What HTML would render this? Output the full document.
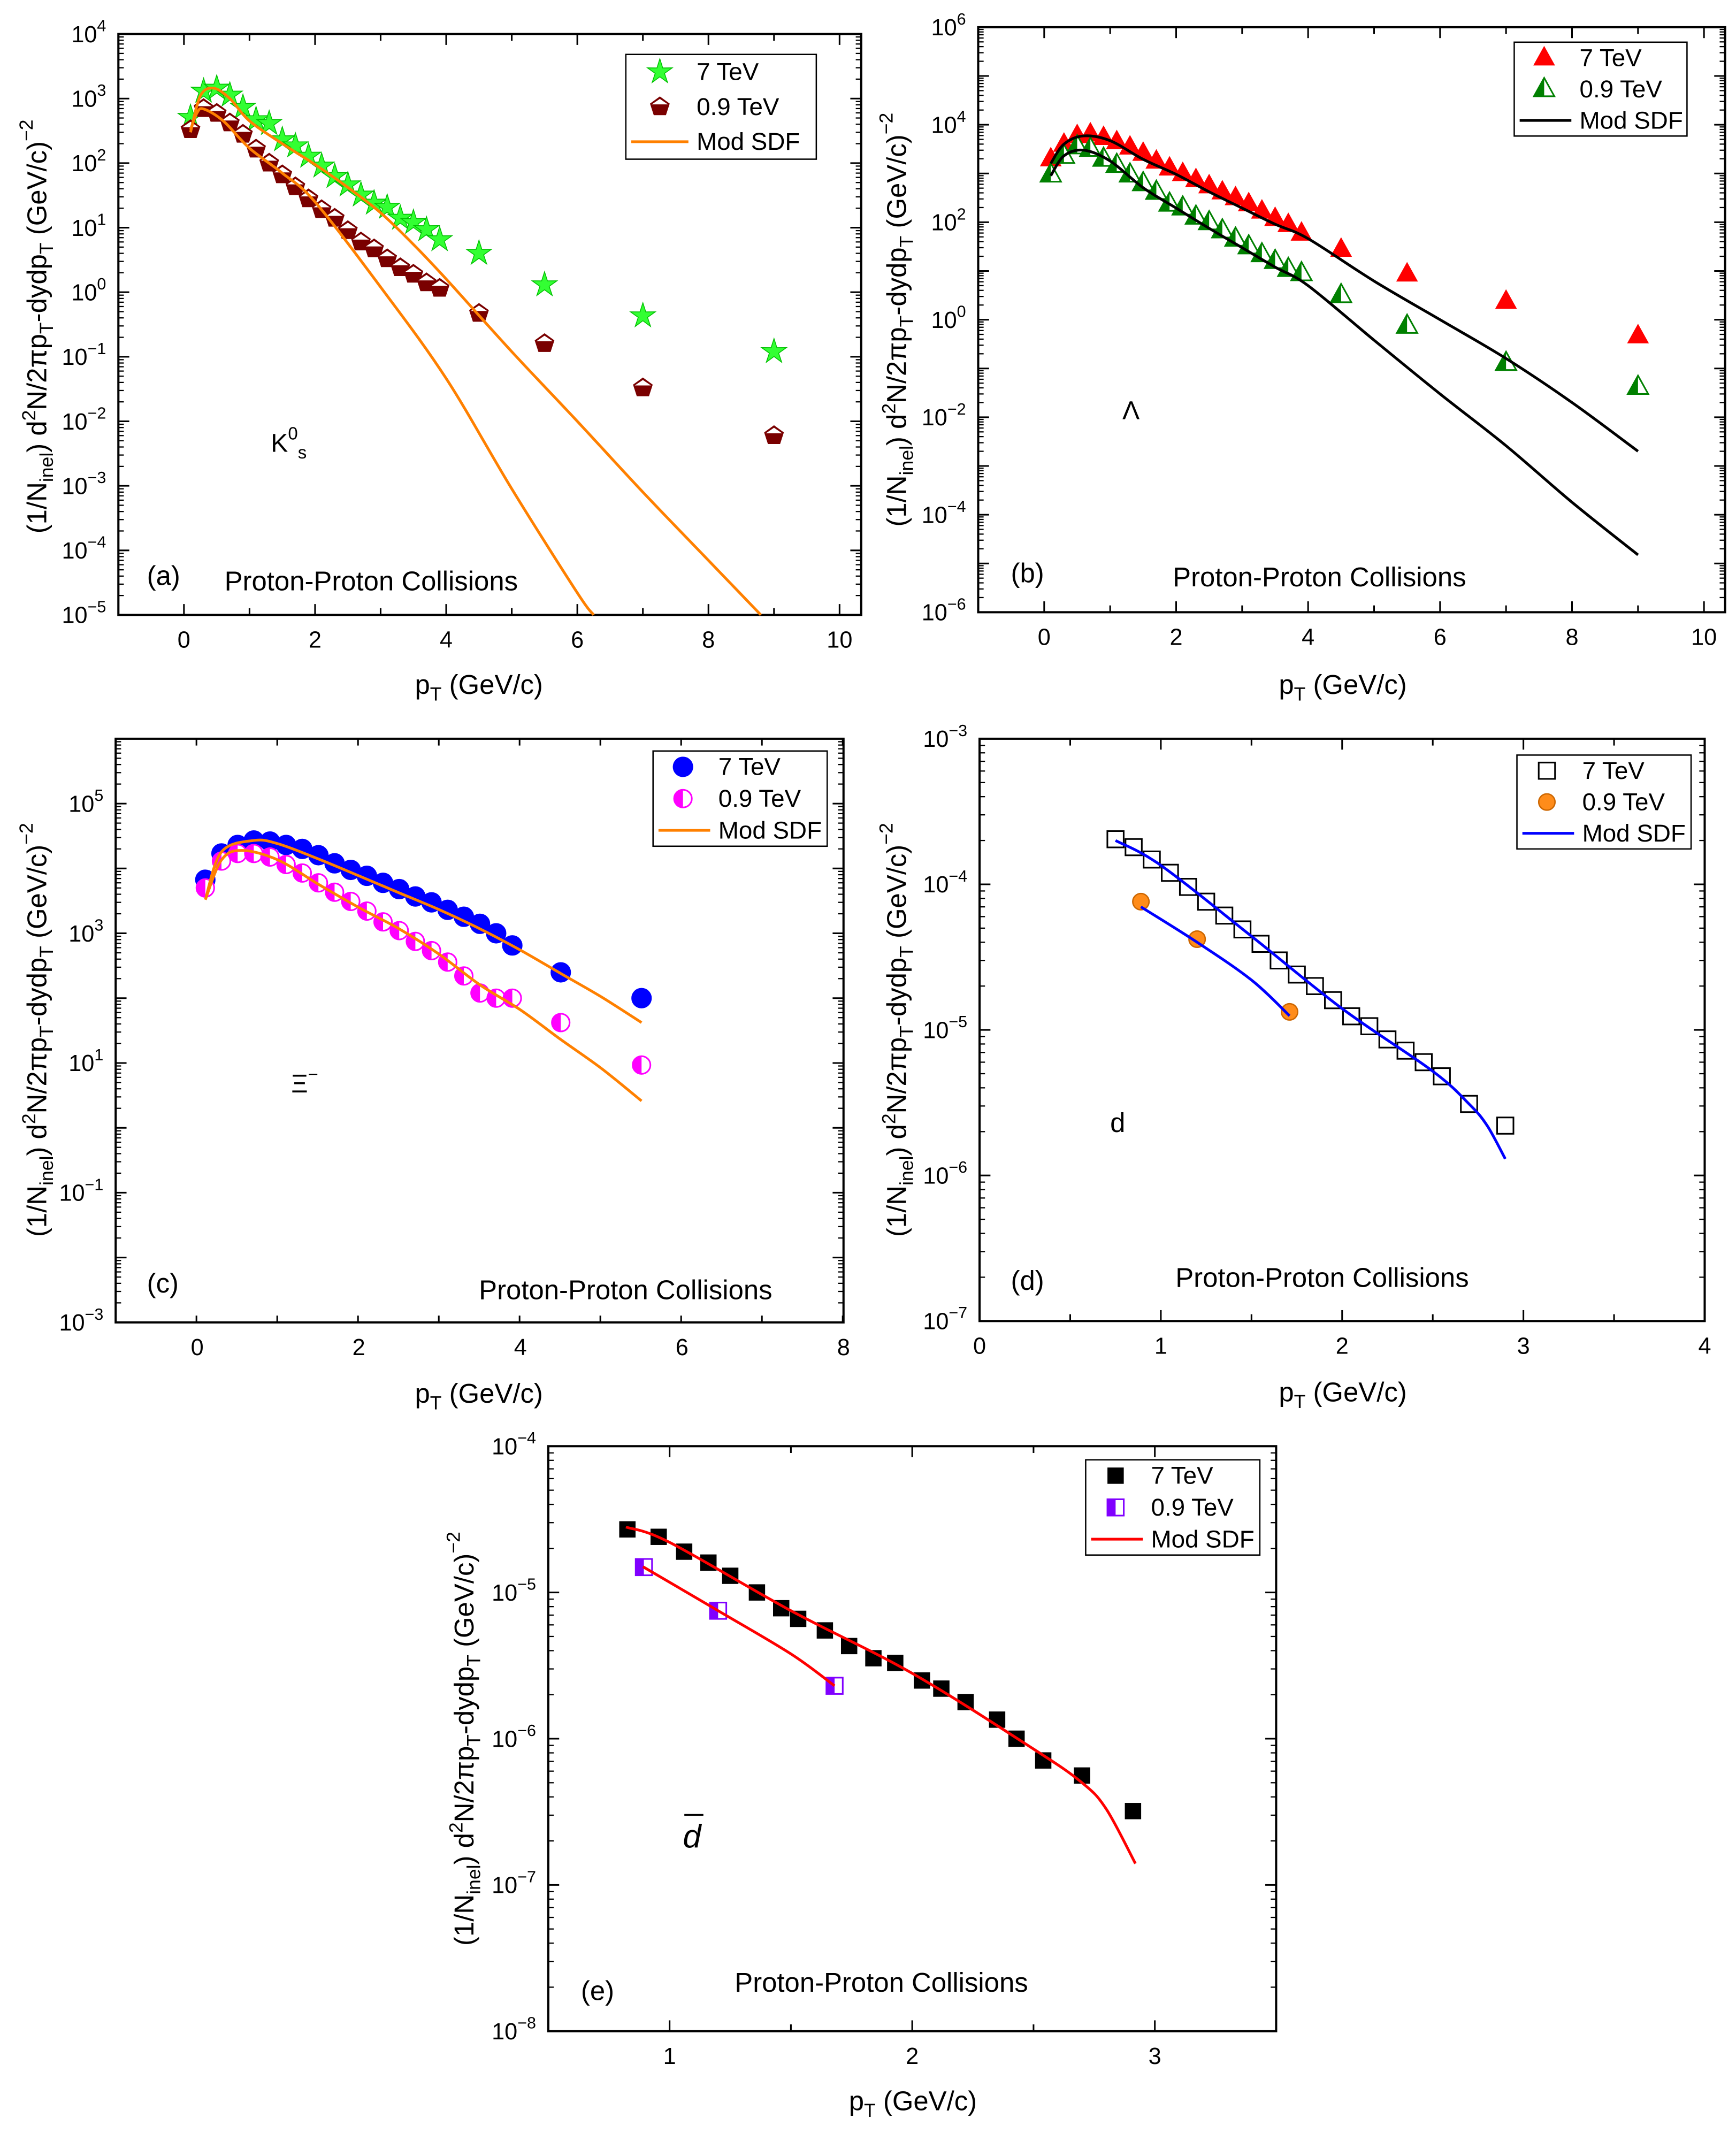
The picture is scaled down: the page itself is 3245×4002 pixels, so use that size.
<!DOCTYPE html>
<html><head><meta charset="utf-8"><style>
html,body{margin:0;padding:0;background:#fff}
svg{display:block}
text{font-family:"Liberation Sans",sans-serif;fill:#000}
</style></head><body>
<svg id="fig" xmlns="http://www.w3.org/2000/svg" width="3245" height="4002" viewBox="0 0 1276 1573.7">
<rect width="1276" height="1573.7" fill="#fff"/>
</svg>
<script>
// ---------- DATA ----------
// Panel (a) K0s
const aPt7=[0.1,0.3,0.5,0.7,0.9,1.1,1.3,1.5,1.7,1.9,2.1,2.3,2.5,2.7,2.9,3.1,3.3,3.5,3.7,3.9,4.5,5.5,7,9];
const aY7=[510,1300,1450,1130,730,470,410,230,185,128,90,62,46,32,24,20.7,14,12,9.3,6.5,4,1.3,0.43,0.12];
const aPt09=[0.1,0.3,0.5,0.7,0.9,1.1,1.3,1.5,1.7,1.9,2.1,2.3,2.5,2.7,2.9,3.1,3.3,3.5,3.7,3.9,4.5,5.5,7,9];
const aY09=[330,700,590,420,280,165,100,66,43,28,19,14,9,6,4.7,3.3,2.4,1.9,1.4,1.15,0.47,0.16,0.033,0.006];
const aFitPt7=[0.1,0.25,0.45,0.7,1,1.5,2,2.5,3,3.5,4,5,6,7,8,8.8];
const aFitY7=[300,1100,1450,1000,450,200,95,42,17,5.5,1.6,0.12,0.01,8e-4,7e-5,1e-5];
const aFitPt09=[0.1,0.2,0.3,0.6,1,1.5,2,3,4,5,6,6.25];
const aFitY09=[330,600,690,450,170,70,25,1.2,0.046,9e-4,2.2e-5,1e-5];
// Panel (b) Lambda
const bPt7=[0.1,0.3,0.5,0.7,0.9,1.1,1.3,1.5,1.7,1.9,2.1,2.3,2.5,2.7,2.9,3.1,3.3,3.5,3.7,3.9,4.5,5.5,7,9];
const bY7=[2000,4000,6000,6500,5500,4500,3500,2600,1800,1300,1000,750,560,420,320,240,170,120,90,60,28,8.7,2.4,0.47];
const bPt09=[0.1,0.3,0.5,0.7,0.9,1.1,1.3,1.5,1.7,1.9,2.1,2.3,2.5,2.7,2.9,3.1,3.3,3.5,3.7,3.9,4.5,5.5,7,9];
const bY09=[950,2300,3600,3200,2000,1500,950,630,420,240,200,130,100,68,46,32,22,16,11,9,3.2,0.75,0.13,0.042];
const bFitPt7=[0.1,0.3,0.6,1,1.5,2,2.5,3,3.5,4,5,6,7,8,9];
const bFitY7=[1600,4000,5900,4700,1950,960,420,195,91,46,6.2,1.0,0.16,0.02,0.002];
const bFitPt09=[0.1,0.3,0.6,1,1.5,2,2.5,3,3.5,4,5,6,7,8,9];
const bFitY09=[900,2300,3000,1800,510,195,75,30,12,5,0.38,0.03,0.0026,1.8e-4,1.5e-5];
// Panel (c) Xi-
const cPt7=[0.1,0.3,0.5,0.7,0.9,1.1,1.3,1.5,1.7,1.9,2.1,2.3,2.5,2.7,2.9,3.1,3.3,3.5,3.7,3.9,4.5,5.5];
const cY7=[6700,17000,23000,27000,26000,23000,20000,16000,12000,9500,7700,6000,4800,3700,3000,2300,1800,1400,1000,650,250,100];
const cPt09=[0.1,0.3,0.5,0.7,0.9,1.1,1.3,1.5,1.7,1.9,2.1,2.3,2.5,2.7,2.9,3.1,3.3,3.5,3.7,3.9,4.5,5.5];
const cY09=[5000,13000,17000,17000,15000,11500,8500,6000,4300,3100,2200,1500,1100,750,540,360,220,120,100,100,42,9.3];
const cFitPt7=[0.1,0.3,0.7,1,1.5,2,2.5,3,3.5,4,4.5,5,5.5];
const cFitY7=[3300,18000,27000,24000,14000,7700,4200,2300,1170,550,240,105,42];
const cFitPt09=[0.1,0.3,0.55,1,1.5,2,2.5,3,3.5,4,4.5,5,5.5];
const cFitY09=[3300,13500,19000,13500,5700,2500,1170,470,160,66,23,8.3,2.6];
// Panel (d) deuteron
const dPt7=[0.75,0.85,0.95,1.05,1.15,1.25,1.35,1.45,1.55,1.65,1.75,1.85,1.95,2.05,2.15,2.25,2.35,2.45,2.55,2.7,2.9];
const dY7=[2.04e-4,1.8e-4,1.48e-4,1.2e-4,9.6e-5,7.6e-5,6.1e-5,4.9e-5,3.9e-5,3.0e-5,2.4e-5,2.0e-5,1.6e-5,1.24e-5,1.06e-5,8.6e-6,7.2e-6,6.0e-6,4.8e-6,3.1e-6,2.2e-6];
const dPt09=[0.89,1.2,1.71];
const dY09=[7.6e-5,4.2e-5,1.33e-5];
const dFitPt7=[0.75,1,1.5,2,2.5,2.7,2.8,2.9];
const dFitY7=[2.0e-4,1.35e-4,4.4e-5,1.4e-5,5.2e-6,3.1e-6,2.2e-6,1.3e-6];
const dFitPt09=[0.89,1.2,1.5,1.71];
const dFitY09=[7.0e-5,4.0e-5,2.2e-5,1.25e-5];
// Panel (e) anti-deuteron
const ePt7=[0.826,0.955,1.06,1.16,1.25,1.36,1.46,1.53,1.64,1.74,1.84,1.93,2.04,2.12,2.22,2.35,2.43,2.54,2.70,2.91];
const eY7=[2.7e-5,2.4e-5,1.9e-5,1.6e-5,1.3e-5,1.0e-5,7.8e-6,6.6e-6,5.5e-6,4.3e-6,3.55e-6,3.3e-6,2.5e-6,2.2e-6,1.78e-6,1.35e-6,1.0e-6,7.1e-7,5.6e-7,3.2e-7];
const ePt09=[0.894,1.2,1.68];
const eY09=[1.49e-5,7.5e-6,2.3e-6];
const eFitPt7=[0.82,1,1.5,2,2.5,2.7,2.8,2.92];
const eFitY7=[2.8e-5,2.2e-5,7.5e-6,2.8e-6,8.5e-7,5e-7,3.3e-7,1.4e-7];
const eFitPt09=[0.89,1.2,1.5,1.68];
const eFitY09=[1.5e-5,7.5e-6,3.8e-6,2.3e-6];
// tick labels
const aXTicks=[0,2,4,6,8,10]; const aYExp=[4,3,2,1,0,-1,-2,-3,-4,-5];
const bXTicks=[0,2,4,6,8,10]; const bYExp=[6,4,2,0,-2,-4,-6];
const cXTicks=[0,2,4,6,8];    const cYExp=[5,3,1,-1,-3];
const dXTicks=[0,1,2,3,4];    const dYExp=[-3,-4,-5,-6,-7];
const eXTicks=[1,2,3];        const eYExp=[-4,-5,-6,-7,-8];

// ---------- DRAWING ----------
const NS='http://www.w3.org/2000/svg';
const fig=document.getElementById('fig');
function mk(tag,attrs,parent){const e=document.createElementNS(NS,tag);for(const k in attrs)e.setAttribute(k,attrs[k]);(parent||fig).appendChild(e);return e;}

function panel(c){
  const g=mk('g',{});
  
  
  const xs=v=>c.bx0+(v-c.xmin)/(c.xmax-c.xmin)*(c.bx1-c.bx0);
  const ys=v=>c.by1-(Math.log10(v)-c.lmin)/(c.lmax-c.lmin)*(c.by1-c.by0);
  const ye=e=>c.by1-(e-c.lmin)/(c.lmax-c.lmin)*(c.by1-c.by0);
  const tk=mk('g',{stroke:'#000','stroke-width':1.2},g);
  
  
  for(let v=c.xmin;v<=c.xmax+1e-9;v+=c.xminor){
    const major=Math.abs(v/c.xmajor-Math.round(v/c.xmajor))<1e-6;const L=major?8:5;const x=xs(v);
    if(x<c.bx0-0.5||x>c.bx1+0.5)continue;
    mk('line',{x1:x,x2:x,y1:c.by1,y2:c.by1-L},tk);mk('line',{x1:x,x2:x,y1:c.by0,y2:c.by0+L},tk);
  }
  for(let e=c.lmin;e<=c.lmax;e++){
    const L=8;const y=ye(e);
    mk('line',{x1:c.bx0,x2:c.bx0+L,y1:y,y2:y},tk);mk('line',{x1:c.bx1,x2:c.bx1-L,y1:y,y2:y},tk);
    if(e<c.lmax){for(let k=2;k<=9;k++){const yy=ye(e+Math.log10(k));
      mk('line',{x1:c.bx0,x2:c.bx0+4,y1:yy,y2:yy,'stroke-width':0.9},tk);mk('line',{x1:c.bx1,x2:c.bx1-4,y1:yy,y2:yy,'stroke-width':0.9},tk);}}
  }
  const box=mk('rect',{x:c.bx0,y:c.by0,width:c.bx1-c.bx0,height:c.by1-c.by0,fill:'none',stroke:'#000','stroke-width':1.6},g);
  
  
  c.xTicks.forEach(v=>{const t=mk('text',{x:xs(v),y:c.by1+24,'text-anchor':'middle','font-size':17},g);t.textContent=v;
    
    });
  c.yExp.forEach(e=>{const t=mk('text',{x:c.bx0-9,y:ye(e)+6,'text-anchor':'end','font-size':17},g);t.textContent='10';
    const s=mk('tspan',{'font-size':12,dy:-8},t);s.textContent=String(e).replace('-','\u2212');
    
    });
  const xt=mk('text',{x:c.xtx,y:c.xty,'text-anchor':'middle','font-size':20},g);
  
  
  xt.innerHTML='p<tspan font-size="14" dy="5">T</tspan><tspan dy="-5"> (GeV/c)</tspan>';
  const yt=mk('text',{x:0,y:0,'text-anchor':'middle','font-size':20,transform:`translate(${c.ytx},${c.yty}) rotate(-90)`},g);
  
  
  yt.innerHTML='(1/N<tspan font-size="14" dy="5">inel</tspan><tspan dy="-5">) d</tspan><tspan font-size="14" dy="-8">2</tspan><tspan dy="8">N/2πp</tspan><tspan font-size="14" dy="5">T</tspan><tspan dy="-5">-dydp</tspan><tspan font-size="14" dy="5">T</tspan><tspan dy="-5"> (GeV/c)</tspan><tspan font-size="14" dy="-10">−2</tspan>';
  function curve(px,py,color,name){
    const p=px.map((v,i)=>[xs(v),ys(py[i])]);
    let d='M'+p[0][0]+','+p[0][1];
    for(let i=0;i<p.length-1;i++){const p0=p[Math.max(0,i-1)],p1=p[i],p2=p[i+1],p3=p[Math.min(p.length-1,i+2)];
      d+=` C${p1[0]+(p2[0]-p0[0])/6},${p1[1]+(p2[1]-p0[1])/6} ${p2[0]-(p3[0]-p1[0])/6},${p2[1]-(p3[1]-p1[1])/6} ${p2[0]},${p2[1]}`;}
    const e=mk('path',{d:d,fill:'none',stroke:color,'stroke-width':2},g);
    
    
  }
  function series(px,py,m,name){
    const sg=mk('g',{},g);
    
    
    px.forEach((v,i)=>{const el=marker(sg,xs(v),ys(py[i]),m);
      
      });
  }
  series(c.p7x,c.p7y,c.m7,'series-7tev');
  series(c.p09x,c.p09y,c.m09,'series-09tev');
  curve(c.f7x,c.f7y,c.fitColor,'fit-curve-7tev');
  curve(c.f09x,c.f09y,c.fitColor,'fit-curve-09tev');
  const lg=mk('g',{},g);
  
  
  const L=c.leg;
  mk('rect',{x:L.x,y:L.y,width:L.w,height:L.h,fill:'#fff',stroke:'#000','stroke-width':1},lg);
  const rh=L.h/3;
  const labels=['7 TeV','0.9 TeV','Mod SDF'];
  labels.forEach((s,i)=>{const cy=L.y+rh*(i+0.5);
    if(i<2){marker(lg,L.x+L.mx,cy,i==0?c.m7:c.m09);}
    else{mk('line',{x1:L.x+4,x2:L.x+L.tx-6,y1:cy,y2:cy,stroke:c.fitColor,'stroke-width':2},lg);}
    const t=mk('text',{x:L.x+L.tx,y:cy+6,'font-size':18},lg);t.textContent=s;
    
    });
  c.ann.forEach(a=>{const t=mk('text',{x:a.x,y:a.y,'font-size':a.fs||20,'font-family':a.ff||'Liberation Sans, sans-serif','font-style':a.it?'italic':'normal'},g);t.innerHTML=a.t;
    
    });
}

function marker(p,x,y,m){
  const g=mk('g',{},p);
  const r=m.r||6;
  if(m.t=='star'){let pts=[];for(let k=0;k<10;k++){const a=-Math.PI/2+k*Math.PI/5;const rr=k%2?r*0.45:r*1.2;pts.push((x+rr*Math.cos(a))+','+(y+rr*Math.sin(a)));}
    mk('polygon',{points:pts.join(' '),fill:m.c,stroke:'#00c000','stroke-width':0.6},g);}
  else if(m.t=='pent'){let pts=[];for(let k=0;k<5;k++){const a=-Math.PI/2+k*2*Math.PI/5;pts.push((x+r*Math.cos(a))+','+(y+r*Math.sin(a)));}
    mk('polygon',{points:pts.join(' '),fill:m.c,stroke:m.c,'stroke-width':1},g);
    mk('polygon',{points:`${x},${y-r+1.2} ${x+r*0.85},${y-r*0.25} ${x-r*0.85},${y-r*0.25}`,fill:'#fff'},g);}
  else if(m.t=='tri'||m.t=='htri'){const pts=`${x},${y-r*1.1} ${x+r},${y+r*0.7} ${x-r},${y+r*0.7}`;
    if(m.t=='tri')mk('polygon',{points:pts,fill:m.c},g);
    else{mk('polygon',{points:pts,fill:'#fff',stroke:m.c,'stroke-width':1.2},g);mk('polygon',{points:`${x},${y-r*1.1} ${x},${y+r*0.7} ${x-r},${y+r*0.7}`,fill:m.c},g);}}
  else if(m.t=='circ'){mk('circle',{cx:x,cy:y,r:r,fill:m.c,stroke:m.s||m.c,'stroke-width':1},g);}
  else if(m.t=='hcirc'){mk('circle',{cx:x,cy:y,r:r,fill:'#fff',stroke:m.c,'stroke-width':1.2},g);
    mk('path',{d:`M${x},${y-r} A${r},${r} 0 0 0 ${x},${y+r} Z`,fill:m.c},g);}
  else if(m.t=='sq'){mk('rect',{x:x-r,y:y-r,width:2*r,height:2*r,fill:m.c},g);}
  else if(m.t=='osq'){mk('rect',{x:x-r,y:y-r,width:2*r,height:2*r,fill:'#fff',stroke:'#000','stroke-width':1.2},g);}
  else if(m.t=='hsq'){mk('rect',{x:x-r,y:y-r,width:2*r,height:2*r,fill:'#fff',stroke:m.c,'stroke-width':1.2},g);mk('rect',{x:x-r,y:y-r,width:r,height:2*r,fill:m.c},g);}
  return g;
}

const PPC='Proton-Proton Collisions';
panel({id:'a',bx0:87,bx1:633,by0:25,by1:452,xmin:-1,xmax:10.33,xmajor:2,xminor:1,lmin:-5,lmax:4,yExp:aYExp,xTicks:aXTicks,
  xtx:352,xty:510,ytx:34,yty:240,fitColor:'#ff8000',
  p7x:aPt7,p7y:aY7,p09x:aPt09,p09y:aY09,f7x:aFitPt7,f7y:aFitY7,f09x:aFitPt09,f09y:aFitY09,
  m7:{t:'star',c:'#33ff33',r:8},m09:{t:'pent',c:'#7a0000',r:7},
  leg:{x:460,y:40,w:140,h:77,mx:25,tx:52},
  ann:[{x:108,y:430,t:'(a)',n:'panel-label'},{x:165,y:434,t:PPC,n:'annotation-text'},
       {x:199,y:332,t:'K<tspan font-size="13" dy="-9">0</tspan><tspan font-size="13" dy="14">s</tspan>',ff:'Liberation Serif, serif',fs:19,n:'particle-label'}]});
panel({id:'b',bx0:719,bx1:1268,by0:20,by1:450,xmin:-1,xmax:10.32,xmajor:2,xminor:1,lmin:-6,lmax:6,yExp:bYExp,xTicks:bXTicks,
  xtx:987,xty:510,ytx:666,yty:235,fitColor:'#000',
  p7x:bPt7,p7y:bY7,p09x:bPt09,p09y:bY09,f7x:bFitPt7,f7y:bFitY7,f09x:bFitPt09,f09y:bFitY09,
  m7:{t:'tri',c:'#ff0000',r:8},m09:{t:'htri',c:'#008000',r:7.5},
  leg:{x:1113,y:31,w:127,h:69,mx:22,tx:48},
  ann:[{x:743,y:428,t:'(b)',n:'panel-label'},{x:862,y:431,t:PPC,n:'annotation-text'},
       {x:825,y:308,t:'Λ',ff:'Liberation Serif, serif',fs:19,n:'particle-label'}]});
panel({id:'c',bx0:85,bx1:620,by0:543,by1:972,xmin:-1.01,xmax:8,xmajor:2,xminor:1,lmin:-3,lmax:6,yExp:cYExp,xTicks:cXTicks,
  xtx:352,xty:1031,ytx:34,yty:757,fitColor:'#ff8000',
  p7x:cPt7,p7y:cY7,p09x:cPt09,p09y:cY09,f7x:cFitPt7,f7y:cFitY7,f09x:cFitPt09,f09y:cFitY09,
  m7:{t:'circ',c:'#0000ff',r:7},m09:{t:'hcirc',c:'#ff00ff',r:6.5},
  leg:{x:480,y:552,w:128,h:70,mx:22,tx:48},
  ann:[{x:108,y:950,t:'(c)',n:'panel-label'},{x:352,y:955,t:PPC,n:'annotation-text'},
       {x:214,y:803,t:'Ξ<tspan font-size="13" dy="-9">−</tspan>',ff:'Liberation Serif, serif',fs:19,n:'particle-label'}]});
panel({id:'d',bx0:720,bx1:1253,by0:543,by1:971,xmin:0,xmax:4,xmajor:1,xminor:0.5,lmin:-7,lmax:-3,yExp:dYExp,xTicks:dXTicks,
  xtx:987,xty:1030,ytx:666,yty:757,fitColor:'#0000ff',
  p7x:dPt7,p7y:dY7,p09x:dPt09,p09y:dY09,f7x:dFitPt7,f7y:dFitY7,f09x:dFitPt09,f09y:dFitY09,
  m7:{t:'osq',c:'#000',r:6},m09:{t:'circ',c:'#ff8c1a',s:'#cc6600',r:6},
  leg:{x:1115,y:555,w:128,h:69,mx:22,tx:48},
  ann:[{x:743,y:948,t:'(d)',n:'panel-label'},{x:864,y:946,t:PPC,n:'annotation-text'},
       {x:816,y:832,t:'d',fs:20,n:'particle-label'}]});
panel({id:'e',bx0:403,bx1:938,by0:1063,by1:1493,xmin:0.5,xmax:3.5,xmajor:1,xminor:0.5,lmin:-8,lmax:-4,yExp:eYExp,xTicks:eXTicks,
  xtx:671,xty:1551,ytx:348,yty:1278,fitColor:'#ff0000',
  p7x:ePt7,p7y:eY7,p09x:ePt09,p09y:eY09,f7x:eFitPt7,f7y:eFitY7,f09x:eFitPt09,f09y:eFitY09,
  m7:{t:'sq',c:'#000',r:6},m09:{t:'hsq',c:'#8000ff',r:6},
  leg:{x:798,y:1073,w:128,h:70,mx:22,tx:48},
  ann:[{x:427,y:1470,t:'(e)',n:'panel-label'},{x:540,y:1464,t:PPC,n:'annotation-text'},
       {x:502,y:1358,t:'d',ff:'Liberation Serif, serif',it:true,fs:24,n:'particle-label'}]});
const ol=mk('line',{x1:503,x2:517,y1:1334,y2:1334,stroke:'#000','stroke-width':1.3});


</script>
</body></html>
